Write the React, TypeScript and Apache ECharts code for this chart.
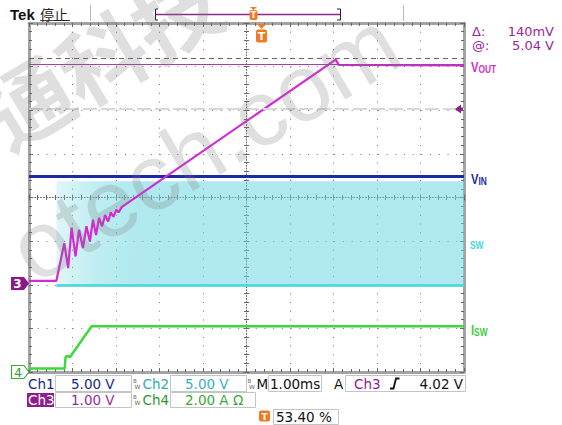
import React, { useEffect, useRef } from "react";
import * as echarts from "echarts";

// Horizontal: time in ms from the left screen edge (1.00 ms/div, 10 div)
// Vertical: screen divisions from the bottom of the graticule (0..8)
const timeMin = 0;
const timeMax = 10;
const divMin = 0;
const divMax = 8;

const voutTime = [0, 0.63, 0.81, 0.9, 0.98, 1.07, 1.15, 1.24, 1.32, 1.4, 1.47, 1.54, 1.61, 1.68, 1.75, 1.82, 1.88, 1.94, 2.01, 2.06, 2.13, 7.05, 7.12, 10];
const voutDiv = [2.09, 2.09, 2.95, 2.38, 3.31, 2.65, 3.26, 2.84, 3.34, 2.99, 3.49, 3.14, 3.53, 3.34, 3.6, 3.45, 3.66, 3.56, 3.72, 3.66, 3.78, 7.16, 7.04, 7.03];
const vinTime = [0, 10];
const vinDiv = [4.48, 4.48];
const swTime = [0.63, 10];
const swLowDiv = [1.98, 1.98];
const swHighDiv = [4.37, 4.37];
const iswTime = [0, 0.82, 0.84, 0.89, 0.94, 1.44, 10];
const iswDiv = [0.08, 0.08, 0.34, 0.37, 0.34, 1.05, 1.05];
const cursorDiv = [7.19, 7.05];
const triggerDiv = [6.04];

const traceNames = ["VOUT", "VIN", "SW", "ISW"];
const channelNames = ["Ch1", "Ch2", "Ch3", "Ch4"];
const channelScales = ["5.00 V", "5.00 V", "1.00 V", "2.00 A Ω"];
const cursorTexts = ["Δ:", "140mV", "@:", "5.04 V"];
const timebaseText = "1.00ms";
const triggerLevelText = "4.02 V";
const triggerPosText = "53.40 %";

const pairs = (xs: number[], ys: number[]) => xs.map((x, i) => [x, ys[i]]);

const FONT = "'DejaVu Sans', 'Liberation Sans', sans-serif";
const NAVY = "#1c2a84";
const TEAL = "#30a8b8";
const PURPLE = "#90228f";
const GREEN = "#2f9a2f";
const ORANGE = "#f07a22";

const tickStyle = { color: "#666", width: 1 };
const dotted = { color: "#777", width: 1, type: [1, 7.72] };

function borderX(position: string, split: boolean) {
  return {
    type: "value", min: timeMin, max: timeMax, interval: 1, position,
    axisLine: { show: true, onZero: false, lineStyle: { color: "#a3a3a3", width: 3 } },
    axisTick: { show: true, inside: true, length: 4, lineStyle: tickStyle },
    minorTick: { show: true, splitNumber: 5, length: 3, lineStyle: tickStyle },
    axisLabel: { show: false },
    splitLine: { show: split, lineStyle: dotted },
  };
}
function borderY(position: string, split: boolean) {
  return {
    type: "value", min: divMin, max: divMax, interval: 1, position,
    axisLine: { show: true, onZero: false, lineStyle: { color: "#a3a3a3", width: 3 } },
    axisTick: { show: true, inside: true, length: 4, lineStyle: tickStyle },
    minorTick: { show: true, splitNumber: 5, length: 3, lineStyle: tickStyle },
    axisLabel: { show: false },
    splitLine: { show: split, lineStyle: dotted },
  };
}
function centerX(position: string, showLine: boolean) {
  return {
    type: "value", min: timeMin, max: timeMax, interval: 1, position, offset: -174.5,
    axisLine: { show: showLine, onZero: false, lineStyle: { color: "#666", width: 1, type: [1, 1.9] } },
    axisTick: { show: true, inside: true, length: 3, lineStyle: tickStyle },
    minorTick: { show: true, splitNumber: 5, length: 2.5, lineStyle: tickStyle },
    axisLabel: { show: false },
    splitLine: { show: false },
  };
}
function centerY(position: string, showLine: boolean) {
  return {
    type: "value", min: divMin, max: divMax, interval: 1, position, offset: -217.5,
    axisLine: { show: showLine, onZero: false, lineStyle: { color: "#666", width: 1, type: [1, 1.9] } },
    axisTick: { show: true, inside: true, length: 3, lineStyle: tickStyle },
    minorTick: { show: true, splitNumber: 5, length: 2.5, lineStyle: tickStyle },
    axisLabel: { show: false },
    splitLine: { show: false },
  };
}

function txt(x: number, y: number, text: string, fill: string, size = 13.5, extra: any = {}) {
  return {
    type: "text", x, y, silent: true, z: 50,
    style: { text, fill, font: `${size}px ${FONT}`, verticalAlign: "middle", align: "left", ...extra },
  };
}
function box(x: number, y: number, w: number, h: number) {
  return { type: "rect", silent: true, z: 40, shape: { x: x + 0.5, y: y + 0.5, width: w, height: h }, style: { fill: "#fff", stroke: "#c4c4c4", lineWidth: 1 } };
}
function bw(x: number, y: number) {
  return [
    txt(x, y - 3, "B", "#666", 5.5),
    txt(x + 1.5, y + 2.5, "W", "#666", 6),
  ];
}
function smallCaps(x: number, y: number, big: string, small: string, color: string) {
  return {
    type: "text", x, y, scaleX: 0.8, silent: true, z: 50,
    style: {
      text: (big ? `{a|${big}}` : "") + `{b|${small}}`,
      fill: color,
      verticalAlign: "middle",
      rich: {
        a: { fontSize: 14, fontWeight: "bold", fontFamily: "Liberation Sans", fill: color, lineHeight: 15, verticalAlign: "bottom" },
        b: { fontSize: 10.5, fontWeight: "bold", fontFamily: "Liberation Sans", fill: color, lineHeight: 15, verticalAlign: "bottom" },
      },
    },
  };
}
function tIcon(x: number, y: number, w: number, h: number) {
  return [
    { type: "rect", silent: true, z: 60, shape: { x, y, width: w, height: h, r: 2 }, style: { fill: ORANGE } },
    { type: "text", silent: true, z: 61, x: x + w / 2, y: y + h / 2 + 0.5, style: { text: "T", fill: "#fff", font: `bold ${h - 2}px ${FONT}`, align: "center", verticalAlign: "middle" } },
  ];
}

const WM = "rgba(120,120,120,0.24)";

function buildGraphic() {
  const g: any[] = [];
  // header
  g.push(txt(10, 14, "Tek", "#111", 15, { font: `bold 15px 'Liberation Sans', sans-serif` }));
  g.push(txt(40, 14, "停止", "#222", 14, { font: `14px 'Noto Sans CJK SC', sans-serif` }));
  g.push({ type: "line", silent: true, shape: { x1: 40, y1: 20.5, x2: 70, y2: 20.5 }, style: { stroke: "#444", lineWidth: 1 } });
  g.push({ type: "line", silent: true, shape: { x1: 90.5, y1: 5, x2: 90.5, y2: 21 }, style: { stroke: "#bbb", lineWidth: 1 } });
  g.push({ type: "line", silent: true, shape: { x1: 403.5, y1: 5, x2: 403.5, y2: 21 }, style: { stroke: "#bbb", lineWidth: 1 } });
  // record bracket
  g.push({ type: "line", silent: true, shape: { x1: 156, y1: 14.5, x2: 340, y2: 14.5 }, style: { stroke: "#8a2a8a", lineWidth: 1.3 } });
  g.push({ type: "polyline", silent: true, shape: { points: [[158, 9], [155.5, 9], [155.5, 20], [158, 20]] }, style: { stroke: "#222", lineWidth: 1, fill: "none" } });
  g.push({ type: "polyline", silent: true, shape: { points: [[337, 9], [340.5, 9], [340.5, 20], [337, 20]] }, style: { stroke: "#222", lineWidth: 1, fill: "none" } });
  g.push({ type: "polygon", silent: true, z: 60, shape: { points: [[250, 7], [257, 7], [253.5, 10]] }, style: { fill: ORANGE } });
  g.push(...tIcon(249.5, 10, 8, 10));
  // trigger position at top of graticule
  g.push({ type: "polygon", silent: true, z: 60, shape: { points: [[257, 24], [266, 24], [261.5, 29]] }, style: { fill: ORANGE } });
  g.push(...tIcon(256, 29.5, 11, 13));
  // cursor readouts
  const ro = { lineHeight: 13 };
  g.push(txt(472, 31.5, cursorTexts[0], "#9c249c", 13, ro));
  g.push(txt(554, 31.5, cursorTexts[1], "#9c249c", 13, { align: "right", ...ro }));
  g.push(txt(472, 45.5, cursorTexts[2], "#9c249c", 13, ro));
  g.push(txt(554, 45.5, cursorTexts[3], "#9c249c", 13, { align: "right", ...ro }));
  // trace labels
  g.push(smallCaps(471, 67, traceNames[0].slice(0, 1), traceNames[0].slice(1), "#cc33cc"));
  g.push(smallCaps(471, 179, traceNames[1].slice(0, 1), traceNames[1].slice(1), "#1c2a9c"));
  g.push(smallCaps(470, 243, "", traceNames[2], "#48d4e0"));
  g.push(smallCaps(471, 330, traceNames[3].slice(0, 1), traceNames[3].slice(1), "#44cc44"));
  // trigger level arrow
  g.push({ type: "polygon", silent: true, z: 60, shape: { points: [[455, 109], [461, 104.5], [461, 113.5]] }, style: { fill: "#8e1e8e" } });
  g.push({ type: "rect", silent: true, z: 60, shape: { x: 460, y: 107.5, width: 3, height: 3 }, style: { fill: "#8e1e8e" } });
  // channel ground markers
  g.push({ type: "polygon", silent: true, z: 60, shape: { points: [[11, 277], [24, 277], [29, 283.5], [24, 290], [11, 290]] }, style: { fill: "#8a1a8a" } });
  g.push({ type: "text", silent: true, z: 61, x: 17.5, y: 284, style: { text: "3", fill: "#fff", font: `bold 12px ${FONT}`, align: "center", verticalAlign: "middle" } });
  g.push({ type: "polygon", silent: true, z: 60, shape: { points: [[11.5, 365.5], [24, 365.5], [29, 372], [24, 378.5], [11.5, 378.5]] }, style: { fill: "#fff", stroke: "#3aaa3a", lineWidth: 1.2 } });
  g.push({ type: "text", silent: true, z: 61, x: 18, y: 372.5, style: { text: "4", fill: "#2f9a2f", font: `12px ${FONT}`, align: "center", verticalAlign: "middle" } });
  // status bar row 1
  g.push(box(55, 375, 76, 16), box(170, 375, 76, 16), box(268, 375, 53, 16), box(345, 375, 120, 16));
  g.push(txt(28, 383.5, channelNames[0], NAVY));
  g.push(txt(71, 383.5, channelScales[0], NAVY));
  g.push(...bw(133, 383.5));
  g.push(txt(142.5, 383.5, channelNames[1], TEAL));
  g.push(txt(185, 383.5, channelScales[1], "#38b0c0"));
  g.push(...bw(247.5, 383.5));
  g.push(txt(256.5, 383.5, "M", "#111"));
  g.push(txt(270, 383.5, timebaseText, "#111"));
  g.push(txt(334, 383.5, "A", "#111"));
  g.push(txt(354, 383.5, channelNames[2], PURPLE));
  g.push({ type: "polyline", silent: true, z: 60, shape: { points: [[390, 388.5], [393.5, 388.5], [396, 378.5], [399.5, 378.5]] }, style: { stroke: "#111", lineWidth: 1.8, fill: "none" } });
  g.push(txt(463, 383.5, triggerLevelText, "#111", 13.5, { align: "right" }));
  // row 2
  g.push(box(55, 392, 76, 15), box(170, 392, 85, 15));
  g.push({ type: "rect", silent: true, z: 45, shape: { x: 27, y: 393, width: 27, height: 14 }, style: { fill: "#8e1e8e" } });
  g.push(txt(28, 400, channelNames[2], "#fff"));
  g.push(txt(71, 400, channelScales[2], "#9a2a9a"));
  g.push(...bw(133, 400));
  g.push(txt(142.5, 400, channelNames[3], GREEN));
  g.push(txt(185, 400, channelScales[3], "#3aa83a"));
  // row 3
  g.push(box(273, 409, 65, 15));
  g.push(...tIcon(259, 410.5, 11, 11));
  g.push(txt(276, 416.5, triggerPosText, "#111"));
  // watermark
  g.push({
    type: "group", x: 100, y: 55, rotation: 0.54, silent: true,
    children: [{ type: "text", z: 100, silent: true, style: { text: "通科技", fill: WM, font: `bold 86px 'Noto Sans CJK SC', sans-serif`, align: "center", verticalAlign: "middle" } }],
  });
  g.push({
    type: "group", x: 238, y: 126, rotation: 0.54, silent: true,
    children: [
      { type: "text", z: 100, silent: true, style: { text: "otech.", fill: WM, font: `94px 'Liberation Sans', sans-serif`, align: "right", verticalAlign: "middle" } },
      { type: "text", z: 100, silent: true, style: { text: "com", fill: WM, font: `94px 'Liberation Sans', sans-serif`, align: "left", verticalAlign: "middle" } },
    ],
  });
  return g;
}

export default function App() {
  const ref = useRef<HTMLDivElement>(null);
  useEffect(() => {
    const chart = echarts.init(ref.current!, null, { renderer: "svg" });
    const bandColor = new echarts.graphic.LinearGradient(0, 0, 1, 0, [
      { offset: 0, color: "rgba(110,215,225,0.22)" },
      { offset: 0.1, color: "rgba(110,215,225,0.45)" },
      { offset: 0.2, color: "rgba(110,215,225,0.55)" },
      { offset: 1, color: "rgba(110,215,225,0.55)" },
    ]);
    const option: any = {
      animation: false,
      backgroundColor: "#fff",
      grid: { left: 29, top: 23, width: 435, height: 349, containLabel: false, show: false },
      xAxis: [borderX("bottom", true), borderX("top", false), centerX("bottom", true), centerX("top", false)],
      yAxis: [borderY("left", true), borderY("right", false), centerY("left", true), centerY("right", false)],
      series: [
        {
          type: "line", name: "SW band", data: pairs(swTime, swHighDiv), showSymbol: false, silent: true, z: 2,
          lineStyle: { width: 0, opacity: 0 },
          areaStyle: { origin: swLowDiv[0], color: bandColor, opacity: 1 },
        },
        {
          type: "line", name: "SW", data: pairs(swTime, swLowDiv), showSymbol: false, silent: true, z: 3,
          lineStyle: { color: "#40d6e0", width: 2.5 },
        },
        {
          type: "line", name: "VIN", data: pairs(vinTime, vinDiv), showSymbol: false, silent: true, z: 3,
          lineStyle: { color: "#1c2aa4", width: 3 },
        },
        {
          type: "line", name: "ISW", data: pairs(iswTime, iswDiv), showSymbol: false, silent: true, z: 3,
          lineStyle: { color: "#3cd83c", width: 2.5 },
        },
        {
          type: "line", name: "VOUT", data: pairs(voutTime, voutDiv), showSymbol: false, silent: true, z: 4,
          lineStyle: { color: "#d42ad4", width: 2.2 },
          markLine: {
            silent: true, symbol: ["none", "none"], label: { show: false },
            data: [
              { yAxis: triggerDiv[0], lineStyle: { type: [14, 4], color: "#d8d8d8", width: 2 } },
              { yAxis: cursorDiv[0], lineStyle: { type: [5, 4], color: "#8a4a8a", width: 1 } },
              { yAxis: cursorDiv[1], lineStyle: { type: "solid", color: "#a040a0", width: 1 } },
            ],
          },
        },
      ],
      graphic: { elements: buildGraphic() },
    };
    chart.setOption(option);
    return () => chart.dispose();
  }, []);
  return <div ref={ref} style={{ position: "fixed", left: 0, top: 0, width: 562, height: 425, background: "#fff" }} />;
}
